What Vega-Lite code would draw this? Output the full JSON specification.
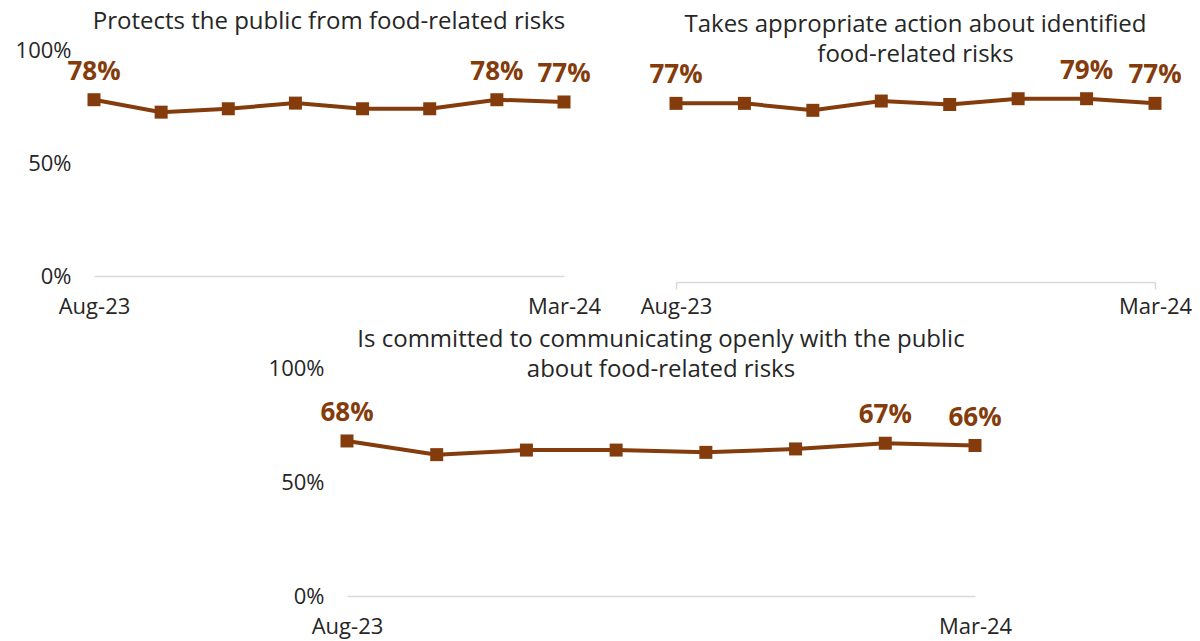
{
  "$schema": "https://vega.github.io/schema/vega-lite/v6.json",
  "padding": {"left": 15, "top": 10, "right": 5, "bottom": 5},
  "background": "white",
  "config": {
    "view": {"stroke": null},
    "font": "Open Sans",
    "title": {"fontSize": 24, "fontWeight": "normal", "color": "#262626", "anchor": "middle", "lineHeight": 30},
    "axis": {"labelFont": "Open Sans", "labelFontSize": 22, "labelColor": "#262626", "grid": false}
  },
  "datasets": {
    "d": [
      {"panel": "p1", "month": "Aug-23", "value": 78},
      {"panel": "p1", "month": "Sep-23", "value": 72.5},
      {"panel": "p1", "month": "Oct-23", "value": 74},
      {"panel": "p1", "month": "Nov-23", "value": 76.5},
      {"panel": "p1", "month": "Dec-23", "value": 74},
      {"panel": "p1", "month": "Jan-24", "value": 74},
      {"panel": "p1", "month": "Feb-24", "value": 78},
      {"panel": "p1", "month": "Mar-24", "value": 77},
      {"panel": "p2", "month": "Aug-23", "value": 77},
      {"panel": "p2", "month": "Sep-23", "value": 77},
      {"panel": "p2", "month": "Oct-23", "value": 74},
      {"panel": "p2", "month": "Nov-23", "value": 78},
      {"panel": "p2", "month": "Dec-23", "value": 76.5},
      {"panel": "p2", "month": "Jan-24", "value": 79},
      {"panel": "p2", "month": "Feb-24", "value": 79},
      {"panel": "p2", "month": "Mar-24", "value": 77},
      {"panel": "p3", "month": "Aug-23", "value": 68},
      {"panel": "p3", "month": "Sep-23", "value": 62},
      {"panel": "p3", "month": "Oct-23", "value": 64},
      {"panel": "p3", "month": "Nov-23", "value": 64},
      {"panel": "p3", "month": "Dec-23", "value": 63},
      {"panel": "p3", "month": "Jan-24", "value": 64.5},
      {"panel": "p3", "month": "Feb-24", "value": 67},
      {"panel": "p3", "month": "Mar-24", "value": 66}
    ]
  },
  "spacing": 11,
  "center": false,
  "vconcat": [
    {
      "spacing": 39,
      "hconcat": [
        {
          "width": 470,
          "height": 226,
          "data": {"name": "d"},
          "title": {"text": "Protects the public from food-related risks", "offset": 5},
          "transform": [
            {"filter": "datum.panel === 'p1'"},
            {"calculate": "format(datum.value, '.0f') + '%'", "as": "label"}
          ],
          "encoding": {
            "x": {"field": "month", "type": "ordinal", "sort": null, "title": null, "scale": {"type": "point", "padding": 0},
              "axis": {"values": ["Aug-23", "Mar-24"], "labelAngle": 0, "domainColor": "#d9d9d9", "domainWidth": 1.5, "ticks": false, "labelPadding": 20}},
            "y": {"field": "value", "type": "quantitative", "title": null, "scale": {"domain": [0, 100]},
              "axis": {"values": [0, 50, 100], "labelExpr": "datum.value + '%'", "domain": false, "ticks": false, "labelPadding": 23}}
          },
          "layer": [
            {"mark": {"type": "line", "color": "#843C0C", "strokeWidth": 4, "point": {"shape": "square", "size": 169, "filled": true, "color": "#843C0C", "opacity": 1}}},
            {"transform": [{"filter": {"field": "month", "oneOf": ["Aug-23", "Feb-24", "Mar-24"]}}],
              "mark": {"type": "text", "dy": -28, "fontSize": 26, "fontWeight": "bold", "color": "#843C0C"},
              "encoding": {"text": {"field": "label"}}}
          ]
        },
        {
          "width": 479,
          "height": 232,
          "data": {"name": "d"},
          "title": {"text": ["Takes appropriate action about identified", "food-related risks"], "offset": -17},
          "transform": [
            {"filter": "datum.panel === 'p2'"},
            {"calculate": "format(datum.value, '.0f') + '%'", "as": "label"}
          ],
          "encoding": {
            "x": {"field": "month", "type": "ordinal", "sort": null, "title": null, "scale": {"type": "point", "padding": 0},
              "axis": {"values": ["Aug-23", "Mar-24"], "labelAngle": 0, "domainColor": "#d9d9d9", "domainWidth": 1.5, "ticks": true, "tickColor": "#d9d9d9", "tickWidth": 1.5, "tickSize": 7, "labelPadding": 7}},
            "y": {"field": "value", "type": "quantitative", "scale": {"domain": [0, 100]}, "axis": null}
          },
          "layer": [
            {"mark": {"type": "line", "color": "#843C0C", "strokeWidth": 4, "point": {"shape": "square", "size": 169, "filled": true, "color": "#843C0C", "opacity": 1}}},
            {"transform": [{"filter": {"field": "month", "oneOf": ["Aug-23", "Feb-24", "Mar-24"]}}],
              "mark": {"type": "text", "dy": -28, "fontSize": 26, "fontWeight": "bold", "color": "#843C0C"},
              "encoding": {"text": {"field": "label"}}}
          ]
        }
      ]
    },
    {
      "spacing": 0,
      "hconcat": [
        {
          "width": 174,
          "height": 228,
          "data": {"values": []},
          "mark": {"type": "point", "opacity": 0},
          "encoding": {}
        },
        {
          "width": 628,
          "height": 228,
          "data": {"name": "d"},
          "title": {"text": ["Is committed to communicating openly with the public", "about food-related risks"], "offset": -25},
          "transform": [
            {"filter": "datum.panel === 'p3'"},
            {"calculate": "format(datum.value, '.0f') + '%'", "as": "label"}
          ],
          "encoding": {
            "x": {"field": "month", "type": "ordinal", "sort": null, "title": null, "scale": {"type": "point", "padding": 0},
              "axis": {"values": ["Aug-23", "Mar-24"], "labelAngle": 0, "domainColor": "#d9d9d9", "domainWidth": 1.5, "ticks": false, "labelPadding": 20}},
            "y": {"field": "value", "type": "quantitative", "title": null, "scale": {"domain": [0, 100]},
              "axis": {"values": [0, 50, 100], "labelExpr": "datum.value + '%'", "domain": false, "ticks": false, "labelPadding": 23}}
          },
          "layer": [
            {"mark": {"type": "line", "color": "#843C0C", "strokeWidth": 4, "point": {"shape": "square", "size": 169, "filled": true, "color": "#843C0C", "opacity": 1}}},
            {"transform": [{"filter": {"field": "month", "oneOf": ["Aug-23", "Feb-24", "Mar-24"]}}],
              "mark": {"type": "text", "dy": -28, "fontSize": 26, "fontWeight": "bold", "color": "#843C0C"},
              "encoding": {"text": {"field": "label"}}}
          ]
        }
      ]
    }
  ]
}
